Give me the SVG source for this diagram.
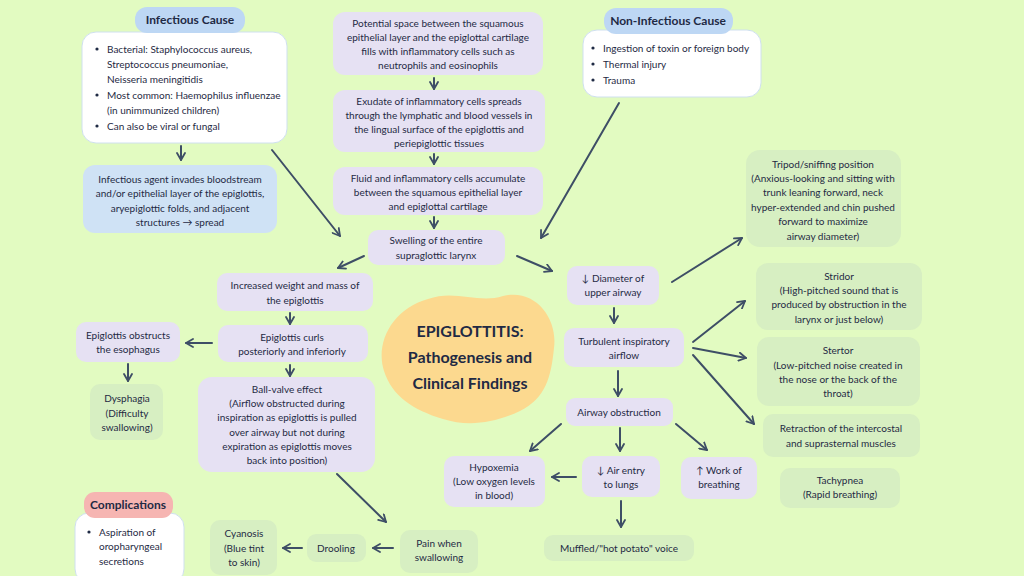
<svg xmlns="http://www.w3.org/2000/svg" width="1024" height="576" viewBox="0 0 1024 576">
<defs>
<marker id="ah" viewBox="0 0 10 10" refX="8" refY="5" markerWidth="10" markerHeight="10" markerUnits="userSpaceOnUse" orient="auto">
<path d="M1,1 L8,5 L1,9" fill="none" stroke="#3e4e66" stroke-width="1.8" stroke-linecap="round" stroke-linejoin="round"/>
</marker>
</defs>
<style>
.t{font-family:Lato,"Noto Sans",sans-serif;font-size:10px;fill:#1f2a44;text-anchor:middle}
.l{text-anchor:start}
.h{font-family:Lato,"Noto Sans",sans-serif;font-size:12px;font-weight:bold;fill:#1f2a44;text-anchor:middle}
.ti{font-family:Lato,"Noto Sans",sans-serif;font-size:16px;font-weight:bold;fill:#1f2a44;text-anchor:middle}
.p{fill:#e6e1f3}
.g{fill:#d7efc2}
.b{fill:#cfe2f5}
.hb{fill:#bdd7f4}
.w{fill:#ffffff;stroke:#cfe0ef;stroke-width:1}
.pk{fill:#f6b5b2}
.c line{stroke:#3e4e66;stroke-width:2;stroke-linecap:round;marker-end:url(#ah)}
</style>
<rect width="1024" height="576" fill="#e2fbc1"/>

<g id="title">
<path d="M428,299 C455,289 478,304 503,296 C535,288 558,318 554,348 C551,377 546,398 520,411 C495,423 468,427 443,419 C413,410 392,396 384,371 C375,343 392,309 428,299 Z" fill="#fcd98f"/>
<text class="ti" x="470" y="337">EPIGLOTTITIS:</text>
<text class="ti" x="470" y="363">Pathogenesis and</text>
<text class="ti" x="470" y="389">Clinical Findings</text>
</g>

<g id="infectious-cause">
<rect class="w" x="82" y="32" width="205" height="111" rx="14"/>
<rect class="hb" x="135" y="7" width="110" height="26" rx="12"/>
<text class="h" x="190" y="24">Infectious Cause</text>
<g class="t">
<circle cx="97" cy="49" r="1.6" fill="#1f2a44"/>
<circle cx="97" cy="95" r="1.6" fill="#1f2a44"/>
<circle cx="97" cy="126" r="1.6" fill="#1f2a44"/>
</g>
<text class="t l" x="107" y="52.5">Bacterial: Staphylococcus aureus,</text>
<text class="t l" x="107" y="67.5">Streptococcus pneumoniae,</text>
<text class="t l" x="107" y="82.5">Neisseria meningitidis</text>
<text class="t l" x="107" y="98.5">Most common: Haemophilus influenzae</text>
<text class="t l" x="107" y="113.5">(in unimmunized children)</text>
<text class="t l" x="107" y="129.5">Can also be viral or fungal</text>
</g>

<g id="infectious-agent">
<rect class="b" x="83" y="165" width="194" height="68" rx="12"/>
<text class="t" x="180" y="182.5">Infectious agent invades bloodstream</text>
<text class="t" x="180" y="196.5">and/or epithelial layer of the epiglottis,</text>
<text class="t" x="180" y="211.5">aryepiglottic folds, and adjacent</text>
<text class="t" x="180" y="225.5">structures → spread</text>
</g>

<g id="non-infectious-cause">
<rect class="w" x="583" y="30" width="178" height="67" rx="14"/>
<rect class="hb" x="604" y="8" width="129" height="26" rx="12"/>
<text class="h" x="668" y="25">Non-Infectious Cause</text>
<circle cx="593" cy="48" r="1.6" fill="#1f2a44"/>
<circle cx="593" cy="64" r="1.6" fill="#1f2a44"/>
<circle cx="593" cy="80" r="1.6" fill="#1f2a44"/>
<text class="t l" x="603" y="51.5">Ingestion of toxin or foreign body</text>
<text class="t l" x="603" y="67.5">Thermal injury</text>
<text class="t l" x="603" y="83.5">Trauma</text>
</g>

<g id="potential-space">
<rect class="p" x="333" y="12" width="210" height="63" rx="12"/>
<text class="t" x="438" y="26.5">Potential space between the squamous</text>
<text class="t" x="438" y="40.5">epithelial layer and the epiglottal cartilage</text>
<text class="t" x="438" y="54.5">fills with inflammatory cells such as</text>
<text class="t" x="438" y="68.5">neutrophils and eosinophils</text>
</g>

<g id="exudate">
<rect class="p" x="333" y="90" width="212" height="62" rx="12"/>
<text class="t" x="439" y="104.5">Exudate of inflammatory cells spreads</text>
<text class="t" x="439" y="118.5">through the lymphatic and blood vessels in</text>
<text class="t" x="439" y="132.5">the lingual surface of the epiglottis and</text>
<text class="t" x="439" y="146.5">periepiglottic tissues</text>
</g>

<g id="fluid">
<rect class="p" x="333" y="167" width="210" height="48" rx="12"/>
<text class="t" x="438" y="181.5">Fluid and inflammatory cells accumulate</text>
<text class="t" x="438" y="195.5">between the squamous epithelial layer</text>
<text class="t" x="438" y="209.5">and epiglottal cartilage</text>
</g>

<g id="swelling">
<rect class="p" x="368" y="230" width="137" height="35" rx="10"/>
<text class="t" x="436" y="243.5">Swelling of the entire</text>
<text class="t" x="436" y="258.5">supraglottic larynx</text>
</g>

<g id="increased-weight">
<rect class="p" x="217" y="273" width="156" height="38" rx="10"/>
<text class="t" x="295" y="288.5">Increased weight and mass of</text>
<text class="t" x="295" y="303.5">the epiglottis</text>
</g>

<g id="curls">
<rect class="p" x="218" y="325" width="150" height="37" rx="10"/>
<text class="t" x="292" y="340.5">Epiglottis curls</text>
<text class="t" x="292" y="354.5">posteriorly and inferiorly</text>
</g>

<g id="obstructs-esophagus">
<rect class="p" x="76" y="322" width="104" height="40" rx="10"/>
<text class="t" x="128" y="338.5">Epiglottis obstructs</text>
<text class="t" x="128" y="352.5">the esophagus</text>
</g>

<g id="dysphagia">
<rect class="g" x="90" y="384" width="73" height="56" rx="10"/>
<text class="t" x="127" y="401.5">Dysphagia</text>
<text class="t" x="127" y="416.5">(Difficulty</text>
<text class="t" x="127" y="430.5">swallowing)</text>
</g>

<g id="ball-valve">
<rect class="p" x="198" y="377" width="177" height="95" rx="14"/>
<text class="t" x="287" y="392.5">Ball-valve effect</text>
<text class="t" x="287" y="406.5">(Airflow obstructed during</text>
<text class="t" x="287" y="421">inspiration as epiglottis is pulled</text>
<text class="t" x="287" y="435.5">over airway but not during</text>
<text class="t" x="287" y="449.5">expiration as epiglottis moves</text>
<text class="t" x="287" y="464">back into position)</text>
</g>

<g id="pain-swallowing">
<rect class="g" x="400" y="530" width="78" height="43" rx="10"/>
<text class="t" x="439" y="546.5">Pain when</text>
<text class="t" x="439" y="561">swallowing</text>
</g>

<g id="drooling">
<rect class="g" x="307" y="534" width="59" height="28" rx="9"/>
<text class="t" x="336" y="551.5">Drooling</text>
</g>

<g id="cyanosis">
<rect class="g" x="210" y="520" width="67" height="55" rx="10"/>
<text class="t" x="244" y="537">Cyanosis</text>
<text class="t" x="244" y="551.5">(Blue tint</text>
<text class="t" x="244" y="565.5">to skin)</text>
</g>

<g id="complications">
<rect class="w" x="75" y="513" width="109" height="70" rx="14"/>
<rect class="pk" x="84" y="492" width="89" height="26" rx="11"/>
<text class="h" x="128" y="509">Complications</text>
<circle cx="89" cy="532" r="1.6" fill="#1f2a44"/>
<text class="t l" x="99" y="535.5">Aspiration of</text>
<text class="t l" x="99" y="549.5">oropharyngeal</text>
<text class="t l" x="99" y="564.5">secretions</text>
</g>

<g id="diameter">
<rect class="p" x="567" y="266" width="92" height="39" rx="10"/>
<text class="t" x="613" y="281.5">↓ Diameter of</text>
<text class="t" x="613" y="295.5">upper airway</text>
</g>

<g id="turbulent">
<rect class="p" x="564" y="328" width="120" height="39" rx="10"/>
<text class="t" x="624" y="344.5">Turbulent inspiratory</text>
<text class="t" x="624" y="358.5">airflow</text>
</g>

<g id="airway-obstruction">
<rect class="p" x="566" y="398" width="107" height="28" rx="9"/>
<text class="t" x="619" y="415.5">Airway obstruction</text>
</g>

<g id="hypoxemia">
<rect class="p" x="444" y="456" width="101" height="51" rx="10"/>
<text class="t" x="494" y="470.5">Hypoxemia</text>
<text class="t" x="494" y="484.5">(Low oxygen levels</text>
<text class="t" x="494" y="498.5">in blood)</text>
</g>

<g id="air-entry">
<rect class="p" x="582" y="456" width="78" height="41" rx="10"/>
<text class="t" x="621" y="473.5">↓ Air entry</text>
<text class="t" x="621" y="487.5">to lungs</text>
</g>

<g id="work-breathing">
<rect class="p" x="681" y="457" width="76" height="42" rx="10"/>
<text class="t" x="719" y="473.5">↑ Work of</text>
<text class="t" x="719" y="487.5">breathing</text>
</g>

<g id="muffled">
<rect class="g" x="544" y="535" width="150" height="26" rx="9"/>
<text class="t" x="619" y="551.5">Muffled/"hot potato" voice</text>
</g>

<g id="tripod">
<rect class="g" x="746" y="150" width="155" height="97" rx="14"/>
<text class="t" x="823" y="167.5">Tripod/sniffing position</text>
<text class="t" x="823" y="181.5">(Anxious-looking and sitting with</text>
<text class="t" x="823" y="196">trunk leaning forward, neck</text>
<text class="t" x="823" y="210.5">hyper-extended and chin pushed</text>
<text class="t" x="823" y="224.5">forward to maximize</text>
<text class="t" x="823" y="239.5">airway diameter)</text>
</g>

<g id="stridor">
<rect class="g" x="756" y="263" width="166" height="67" rx="12"/>
<text class="t" x="839" y="279.5">Stridor</text>
<text class="t" x="839" y="293.5">(High-pitched sound that is</text>
<text class="t" x="839" y="307.5">produced by obstruction in the</text>
<text class="t" x="839" y="322.5">larynx or just below)</text>
</g>

<g id="stertor">
<rect class="g" x="757" y="337" width="163" height="69" rx="12"/>
<text class="t" x="838" y="353.5">Stertor</text>
<text class="t" x="838" y="368.5">(Low-pitched noise created in</text>
<text class="t" x="838" y="382.5">the nose or the back of the</text>
<text class="t" x="838" y="396.5">throat)</text>
</g>

<g id="retraction">
<rect class="g" x="763" y="414" width="157" height="43" rx="10"/>
<text class="t" x="841" y="431.5">Retraction of the intercostal</text>
<text class="t" x="841" y="446.5">and suprasternal muscles</text>
</g>

<g id="tachypnea">
<rect class="g" x="780" y="468" width="120" height="40" rx="10"/>
<text class="t" x="840" y="483.5">Tachypnea</text>
<text class="t" x="840" y="497.5">(Rapid breathing)</text>
</g>

<g id="connectors" class="c">
<line x1="181" y1="146" x2="181" y2="160"/>
<line x1="272" y1="150" x2="340" y2="236"/>
<line x1="434" y1="78" x2="434" y2="89"/>
<line x1="434" y1="154" x2="434" y2="164"/>
<line x1="434" y1="217" x2="434" y2="228"/>
<line x1="619" y1="103" x2="541" y2="238"/>
<line x1="364" y1="256" x2="338" y2="268"/>
<line x1="517" y1="256" x2="552" y2="271"/>
<line x1="614" y1="308" x2="614" y2="323"/>
<line x1="618" y1="371" x2="618" y2="396"/>
<line x1="672" y1="282" x2="742" y2="238"/>
<line x1="693" y1="342" x2="745" y2="301"/>
<line x1="693" y1="348" x2="746" y2="358"/>
<line x1="693" y1="355" x2="754" y2="424"/>
<line x1="561" y1="424" x2="530" y2="451"/>
<line x1="620" y1="428" x2="620" y2="451"/>
<line x1="676" y1="424" x2="707" y2="450"/>
<line x1="576" y1="477" x2="552" y2="477"/>
<line x1="621" y1="501" x2="621" y2="527"/>
<line x1="290" y1="313" x2="290" y2="324"/>
<line x1="212" y1="343" x2="186" y2="343"/>
<line x1="128" y1="364" x2="128" y2="381"/>
<line x1="290" y1="365" x2="290" y2="376"/>
<line x1="337" y1="474" x2="386" y2="522"/>
<line x1="393" y1="548" x2="373" y2="548"/>
<line x1="302" y1="548" x2="283" y2="548"/>
</g>
</svg>
